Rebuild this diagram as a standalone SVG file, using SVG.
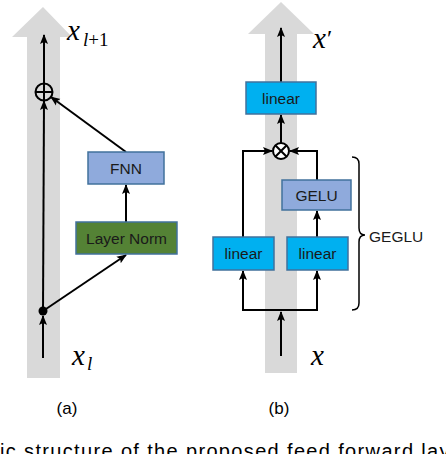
<svg xmlns="http://www.w3.org/2000/svg" width="446" height="454" viewBox="0 0 446 454">
<style>
.bg{fill:#d9d9d9}
.box{stroke:#41719c;stroke-width:1.5}
.fnn{fill:#8faadc}
.ln{fill:#548235}
.lin{fill:#00b0f0}
.lbl{font-family:"Liberation Sans",Arial,sans-serif;font-size:15.5px;fill:#1a1a1a;text-anchor:middle}
.edge{stroke:#000;stroke-width:2;fill:none}
.math{font-family:"Liberation Serif","DejaVu Serif",serif;font-style:italic;fill:#000}
.cap{font-family:"Liberation Sans",Arial,sans-serif;font-size:17px;fill:#000;text-anchor:middle}
</style>
<defs>
<marker id="ah" markerUnits="userSpaceOnUse" markerWidth="10" markerHeight="10" viewBox="0 0 10 10" refX="9" refY="5" orient="auto">
<path d="M0,1 L10,5 L0,9 L2,5 z" fill="#000"/>
</marker>
</defs>
<g id="backbone-a">
<path class="bg" d="M27,378 L27,37 L12,37 L43,7 L72,37 L60,37 L60,378 z"/>
</g>
<g id="backbone-b">
<path class="bg" d="M265,373 L265,34 L248,34 L281,2 L314,34 L297,34 L297,373 z"/>
</g>
<g id="connectors">
<line class="edge" x1="43" y1="358" x2="43" y2="316" marker-end="url(#ah)"/>
<line class="edge" x1="43" y1="311" x2="44" y2="101" marker-end="url(#ah)"/>
<line class="edge" x1="44" y1="84" x2="44" y2="35" marker-end="url(#ah)"/>
<line class="edge" x1="43" y1="311" x2="126" y2="255" marker-end="url(#ah)"/>
<line class="edge" x1="126" y1="222" x2="126" y2="185" marker-end="url(#ah)"/>
<line class="edge" x1="126" y1="152" x2="51" y2="97" marker-end="url(#ah)"/>
<line class="edge" x1="281" y1="356" x2="281" y2="312" marker-end="url(#ah)"/>
<polyline class="edge" points="281,310 243,310 243,271" marker-end="url(#ah)"/>
<polyline class="edge" points="281,310 317,310 317,271" marker-end="url(#ah)"/>
<line class="edge" x1="317" y1="237" x2="317" y2="211" marker-end="url(#ah)"/>
<polyline class="edge" points="243,237 243,151 272,151" marker-end="url(#ah)"/>
<polyline class="edge" points="317,180 317,151 290,151" marker-end="url(#ah)"/>
<line class="edge" x1="281" y1="143" x2="281" y2="115" marker-end="url(#ah)"/>
<line class="edge" x1="281" y1="82" x2="281" y2="28" marker-end="url(#ah)"/>
</g>
<g id="split-dot">
<circle cx="43" cy="311" r="4.5" fill="#000"/>
</g>
<g id="add">
<circle cx="44" cy="92" r="8.5" fill="none" stroke="#000" stroke-width="2"/>
<line x1="35.5" y1="92" x2="52.5" y2="92" stroke="#000" stroke-width="2"/>
<line x1="44" y1="83.5" x2="44" y2="100.5" stroke="#000" stroke-width="2"/>
</g>
<g id="layer-norm">
<rect class="box ln" x="76" y="222" width="101" height="32"/>
<text class="lbl" x="126.5" y="243.5">Layer Norm</text>
</g>
<g id="fnn">
<rect class="box fnn" x="88" y="152" width="76" height="32"/>
<text class="lbl" x="126" y="173.5">FNN</text>
</g>
<g id="mult">
<circle cx="281" cy="151" r="8" fill="#fff" stroke="#000" stroke-width="2"/>
<line x1="275.3" y1="145.3" x2="286.7" y2="156.7" stroke="#000" stroke-width="2"/>
<line x1="286.7" y1="145.3" x2="275.3" y2="156.7" stroke="#000" stroke-width="2"/>
</g>
<g id="linear-top">
<rect class="box lin" x="246" y="82" width="70" height="32"/>
<text class="lbl" x="281" y="103.5">linear</text>
</g>
<g id="gelu">
<rect class="box fnn" x="282" y="180" width="69" height="30"/>
<text class="lbl" x="316.5" y="200.5">GELU</text>
</g>
<g id="linear-left">
<rect class="box lin" x="213" y="237" width="61" height="33"/>
<text class="lbl" x="243.5" y="259">linear</text>
</g>
<g id="linear-right">
<rect class="box lin" x="287" y="237" width="61" height="33"/>
<text class="lbl" x="317.5" y="259">linear</text>
</g>
<g id="geglu-brace">
<path d="M352,157 Q359,157 359,164 L359,228 Q359,235 365,235 Q359,235 359,242 L359,303 Q359,310 352,310" fill="none" stroke="#000" stroke-width="1.5"/>
<text x="369" y="242" font-family="Liberation Sans,Arial,sans-serif" font-size="15.5px" fill="#1a1a1a">GEGLU</text>
</g>
<g id="labels">
<text class="math" x="67" y="40" font-size="29">x</text>
<text class="math" x="83" y="46" font-size="19">l<tspan font-style="normal">+1</tspan></text>
<text class="math" x="72" y="365" font-size="29">x</text>
<text class="math" x="87" y="370" font-size="19">l</text>
<text class="math" x="313" y="48" font-size="29">x</text>
<text x="327" y="46" font-family="Liberation Serif,serif" font-size="24" fill="#000">′</text>
<text class="math" x="311" y="365" font-size="29">x</text>
<text class="cap" x="67" y="414">(a)</text>
<text class="cap" x="279" y="414">(b)</text>
<text x="0" y="458" font-family="Liberation Sans,Arial,sans-serif" font-size="20" fill="#000" textLength="470" lengthAdjust="spacing">ic structure of the proposed feed forward layer</text>
</g>
</svg>
